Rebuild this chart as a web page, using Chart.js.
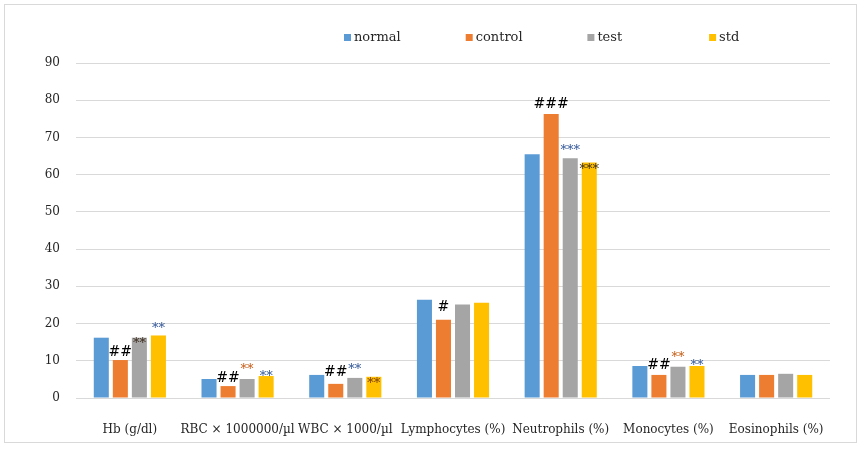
<!DOCTYPE html>
<html>
<head>
<meta charset="utf-8">
<script src="https://cdn.jsdelivr.net/npm/chart.js@4"></script>
<style>
  html, body { margin: 0; padding: 0; background: #fff; }
  #wrap { width: 861px; height: 449px; }
</style>
</head>
<body>
<div id="wrap"><canvas id="c" width="861" height="449"></canvas></div>
<script>
// ---- data ----
const categories = ["Hb (g/dl)", "RBC × 1000000/µl", "WBC × 1000/µl", "Lymphocytes (%)", "Neutrophils (%)", "Monocytes (%)", "Eosinophils (%)"];
const seriesNames = ["normal", "control", "test", "std"];
const normal  = [16.2, 5.1, 6.2, 26.4, 65.5, 8.6, 6.2];
const control = [10.2, 3.2, 3.8, 21.0, 76.3, 6.2, 6.2];
const test    = [16.2, 5.1, 5.4, 25.1, 64.4, 8.4, 6.5];
const std     = [16.8, 5.9, 5.7, 25.6, 63.3, 8.6, 6.2];
const yTicks  = [0, 10, 20, 30, 40, 50, 60, 70, 80, 90];
// significance marks: [series index, category index, text]
const marks = [
  [1, 0, "##"], [2, 0, "**"], [3, 0, "**"],
  [1, 1, "##"], [2, 1, "**"], [3, 1, "**"],
  [1, 2, "##"], [2, 2, "**"], [3, 2, "**"],
  [1, 3, "#"],
  [1, 4, "###"], [2, 4, "***"], [3, 4, "***"],
  [1, 5, "##"], [2, 5, "**"], [3, 5, "**"]
];

// ---- styles ----
const colors = ["#5B9BD5", "#ED7D31", "#A5A5A5", "#FFC000"];
const FONT = "'DejaVu Serif', serif";
const TEXT = "#262626";
// per-mark style: vertical offset of mark centre from bar top (px), colour
const markStyle = [
  [-8, "#000"], [3, "#3b2a1a"], [-10, "#2F5597"],
  [-8, "#000"], [-12, "#C55A11"], [-2, "#2F5597"],
  [-11, "#000"], [-11, "#2F5597"], [4, "#7a3a10"],
  [-12, "#000"],
  [-10, "#000"], [-11, "#2F5597"], [4, "#3b2a1a"],
  [-10, "#000"], [-12, "#C55A11"], [-3, "#2F5597"]
];

const seriesData = [normal, control, test, std];

const borderPlugin = {
  id: 'outerBorder',
  beforeDraw(chart) {
    const ctx = chart.ctx;
    ctx.save();
    ctx.fillStyle = '#fff';
    ctx.fillRect(0, 0, chart.width, chart.height);
    ctx.strokeStyle = '#D9D9D9';
    ctx.lineWidth = 1;
    ctx.strokeRect(4.5, 4.5, 852, 438);
    ctx.restore();
  }
};

const legendPlugin = {
  id: 'fixedLegend',
  afterDraw(chart) {
    const ctx = chart.ctx;
    ctx.save();
    ctx.font = "13px " + FONT;
    ctx.textBaseline = 'middle';
    ctx.textAlign = 'left';
    const x0 = 344, pitch = 121.7, y = 38;
    seriesNames.forEach((n, i) => {
      const x = x0 + i * pitch;
      ctx.fillStyle = colors[i];
      ctx.fillRect(x, y - 4, 7, 7);
      ctx.fillStyle = TEXT;
      ctx.fillText(n, x + 10, y);
    });
    ctx.restore();
  }
};

const marksPlugin = {
  id: 'sigMarks',
  afterDatasetsDraw(chart) {
    const ctx = chart.ctx;
    ctx.save();
    ctx.textAlign = 'center';
    ctx.textBaseline = 'middle';
    marks.forEach((m, k) => {
      const [si, ci, txt] = m;
      const bar = chart.getDatasetMeta(si).data[ci];
      const [dy, col] = markStyle[k];
      const isStar = txt[0] === '*';
      ctx.font = (isStar ? "13px " : "14px ") + FONT;
      ctx.fillStyle = col;
      ctx.fillText(txt, bar.x, bar.y + dy + (isStar ? 3 : 0));
    });
    ctx.restore();
  }
};

new Chart(document.getElementById('c'), {
  type: 'bar',
  data: {
    labels: categories,
    datasets: seriesNames.map((n, i) => ({
      label: n,
      data: seriesData[i],
      backgroundColor: colors[i],
      borderWidth: 0,
      categoryPercentage: 0.707,
      barPercentage: 0.79
    }))
  },
  options: {
    responsive: false,
    animation: false,
    devicePixelRatio: 1,
    layout: { padding: { left: 0, right: 31, top: 63, bottom: 0 } },
    plugins: {
      legend: { display: false },
      tooltip: { enabled: false }
    },
    scales: {
      x: {
        grid: { display: false },
        border: { display: false },
        ticks: { color: TEXT, font: { family: FONT, size: 12 }, padding: 17, maxRotation: 0, autoSkip: false },
        afterFit(s) { s.height = 51; }
      },
      y: {
        min: 0, max: 90,
        afterBuildTicks(s) { s.ticks = yTicks.map(v => ({ value: v })); },
        grid: { color: '#D9D9D9', lineWidth: 1, drawTicks: false },
        border: { display: false },
        ticks: { color: TEXT, font: { family: FONT, size: 12 }, padding: 16 },
        afterFit(s) { s.width = 76; }
      }
    }
  },
  plugins: [borderPlugin, legendPlugin, marksPlugin]
});
</script>
</body>
</html>
